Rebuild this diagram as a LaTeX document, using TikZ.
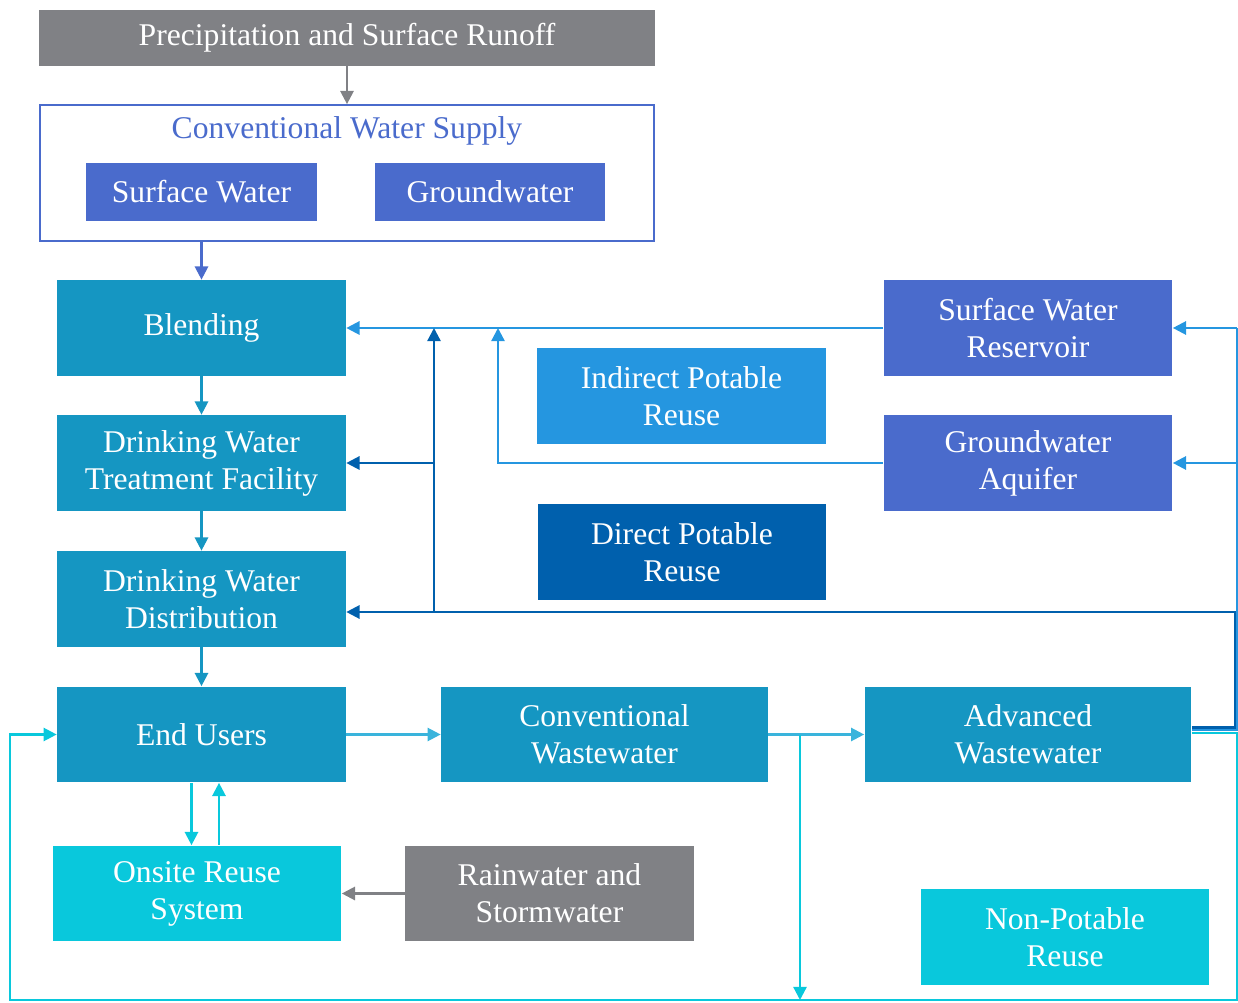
\documentclass[tikz,border=0pt]{standalone}
\usepackage{fontspec}
\setmainfont{Liberation Serif}
\usepackage{tikz}
\usetikzlibrary{arrows.meta}

\definecolor{runoffgray}{RGB}{128,129,133}
\definecolor{supplyblue}{RGB}{74,107,204}
\definecolor{plantteal}{RGB}{21,150,194}
\definecolor{reusecyan}{RGB}{9,200,220}
\definecolor{indirectblue}{RGB}{37,150,224}
\definecolor{directblue}{RGB}{0,96,173}
\definecolor{sewerblue}{RGB}{58,180,220}

\begin{document}
\begin{tikzpicture}[x=0.02cm,y=-0.02cm,>={Triangle[length=7.5pt,width=7.5pt]},
  box/.style={minimum width=5.78cm,minimum height=1.92cm,inner sep=0pt,
    align=center,text=white,font=\fontsize{18}{21}\selectfont},
  widebox/.style={box,minimum width=6.54cm},
  srcbox/.style={box,fill=supplyblue,minimum width=4.62cm,minimum height=1.16cm},
  pipe/.style={line width=1.3pt}]
\useasboundingbox (0,0) rectangle (1238,1003);

% conventional supply
\node[box,fill=runoffgray,minimum width=12.32cm,minimum height=1.12cm] (precip) at (347,38) {Precipitation and Surface Runoff};
\node[draw=supplyblue,line width=1pt,minimum width=12.28cm,minimum height=2.72cm] (cws) at (347,173) {};
\node[text=supplyblue,font=\fontsize{18}{21}\selectfont] (cwstitle) at (347,131) {Conventional Water Supply};
\node[srcbox] (sw) at (201.5,192) {Surface Water};
\node[srcbox] (gw) at (490,192) {Groundwater};

% treatment train
\node[box,fill=plantteal] (blend) at (201.5,328) {Blending};
\node[box,fill=plantteal] (dwtf) at (201.5,463) {Drinking Water\\Treatment Facility};
\node[box,fill=plantteal] (dwd) at (201.5,599) {Drinking Water\\Distribution};
\node[box,fill=plantteal] (users) at (201.5,734.5) {End Users};
\node[widebox,fill=plantteal] (cww) at (604.5,734.5) {Conventional\\Wastewater};
\node[widebox,fill=plantteal] (aww) at (1028,734.5) {Advanced\\Wastewater};

% reuse
\node[box,fill=indirectblue] (ipr) at (681.5,396) {Indirect Potable\\Reuse};
\node[box,fill=directblue] (dpr) at (682,552) {Direct Potable\\Reuse};
\node[box,fill=supplyblue] (swr) at (1028,328) {Surface Water\\Reservoir};
\node[box,fill=supplyblue] (gwa) at (1028,463) {Groundwater\\Aquifer};
\node[box,fill=reusecyan] (onsite) at (197,893.5) {Onsite Reuse\\System};
\node[box,fill=runoffgray] (rain) at (549.5,893.5) {Rainwater and\\Stormwater};
\node[box,fill=reusecyan] (npr) at (1065,937) {Non-Potable\\Reuse};

% junctions
\coordinate (dj) at (434,612);
\coordinate (ij) at (498,463);
\coordinate (rimd) at (1235,612);
\coordinate (rim) at (1237,730);
\coordinate (rimbot) at (1237,1000);
\coordinate (leftbot) at (10,1000);
\coordinate (tap) at (800,735);

% supply arrows
\draw[pipe,runoffgray,->] (precip.south) -- (cws.north);
\draw[pipe,supplyblue,->] (cws.south -| blend) -- (blend.north);
\draw[pipe,plantteal,->] (blend.south) -- (dwtf.north);
\draw[pipe,plantteal,->] (dwtf.south) -- (dwd.north);
\draw[pipe,plantteal,->] (dwd.south) -- (users.north);

% wastewater
\draw[pipe,sewerblue,->] (users.east) -- (cww.west);
\draw[pipe,sewerblue,->] (cww.east) -- (aww.west);
\draw[pipe,reusecyan,->] (tap) -- (tap |- leftbot);
\draw[pipe,reusecyan,->] ([xshift=-0.2cm]users.south) -- ([xshift=-0.2cm]users.south |- onsite.north);
\draw[pipe,reusecyan,<-] ([xshift=0.35cm]users.south) -- ([xshift=0.35cm]users.south |- onsite.north);
\draw[pipe,runoffgray,->] (rain.west) -- (onsite.east);

% indirect potable reuse
\draw[pipe,indirectblue,->] (swr.west) -- (blend.east);
\draw[pipe,indirectblue,->] (gwa.west) -- (ij) -- (ij |- blend);
\draw[pipe,indirectblue] (aww.east |- rim) -- (rim) -- (rim |- swr);
\draw[pipe,indirectblue,->] (rim |- swr) -- (swr.east);
\draw[pipe,indirectblue,->] (rim |- gwa) -- (gwa.east);

% direct potable reuse
\draw[pipe,directblue,->] ([yshift=0.14cm]aww.east) -| (rimd) -- (dwd.east |- dj);
\draw[pipe,directblue,->] (dj) -- (dj |- blend);
\draw[pipe,directblue,->] (dj |- dwtf) -- (dwtf.east);

% non-potable loop
\draw[pipe,reusecyan,->] ([yshift=0.03cm]aww.east) -- ([yshift=0.03cm]aww.east -| rimbot) -- (rimbot) -- (leftbot) |- (users.west);
\end{tikzpicture}
\end{document}
